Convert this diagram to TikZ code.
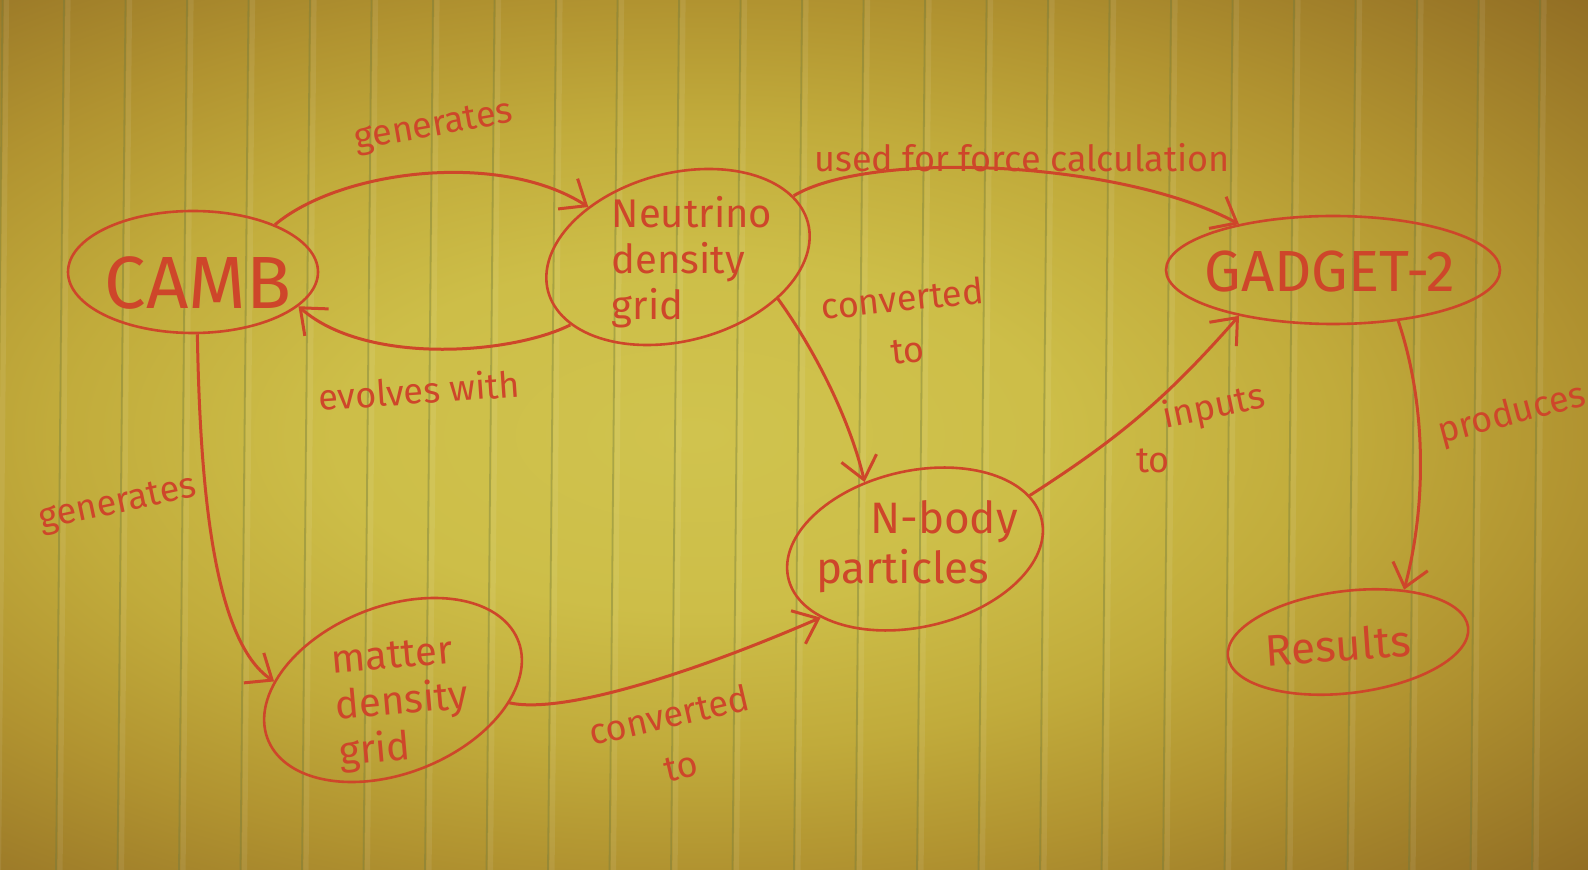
\documentclass[tikz,border=0pt]{standalone}
\usepackage{fontspec}
\setmainfont{Fira Sans}
\usetikzlibrary{shapes.geometric,arrows.meta}

\definecolor{ink}{RGB}{206,70,42}
\definecolor{paperA}{RGB}{208,195,78}
\definecolor{paperB}{RGB}{205,190,72}
\definecolor{paperC}{RGB}{193,171,59}
\definecolor{paperD}{RGB}{177,147,48}
\definecolor{paperE}{RGB}{156,122,40}
\definecolor{paperF}{RGB}{144,108,35}
\definecolor{rule}{RGB}{112,122,62}

% yellow legal pad, darker towards the corners
% (the shaded path's box spans -25bp..25bp of this shading)
\pgfdeclareradialshading{paper}{\pgfpoint{0bp}{0bp}}{%
  color(0bp)=(paperA); color(10bp)=(paperB); color(18bp)=(paperC);
  color(25bp)=(paperD); color(32bp)=(paperE); color(36bp)=(paperF);
  color(50bp)=(paperF)}

\begin{document}
\begin{tikzpicture}[x=0.5pt,y=-0.5pt,
  bubble/.style={ellipse, draw=ink, line width=1.3pt, inner sep=0pt},
  word/.style={text=ink, inner sep=0pt, align=left,
    font=\fontsize{20}{23}\selectfont},
  tag/.style={text=ink, inner sep=0pt, align=center,
    font=\fontsize{18}{26}\selectfont},
  link/.style={draw=ink, line width=1.5pt,
    -{Straight Barb[length=11pt,width=18pt]}},
]
\useasboundingbox (0,0) rectangle (1588,870);
\clip (0,0) rectangle (1588,870);

% paper and its ruling
\shade[shading=paper] (-200,0) rectangle (1588,870);
\foreach \i in {-1,...,25} {
  \pgfmathsetmacro\xt{64+61.5*\i}
  \draw[white, opacity=0.08, line width=2.6pt] (\xt+4,0) -- (\xt-4,870);
  \draw[rule, opacity=0.4, line width=0.9pt] (\xt,0) -- (\xt-8,870);
}

% nodes of the pipeline
\node[bubble, minimum width=125pt, minimum height=61pt] (camb) at (193,272) {};
\node[word, font=\fontsize{37}{40}\selectfont] (cambT) at (198,283) {CAMB};

\node[bubble, xslant=0.35, minimum width=128pt, minimum height=88pt] (nu) at (678,257) {};
\node[word] (nuT) at (692,262) {Neutrino\\density\\grid};

\node[bubble, minimum width=167pt, minimum height=54pt] (gadget) at (1333,270) {};
\node[word, font=\fontsize{29}{31}\selectfont] (gadgetT) at (1330,272) {GADGET-2};

\node[bubble, rotate=13, minimum width=130pt, minimum height=78pt] (nbody) at (915,549) {};
\node[word, font=\fontsize{22}{25}\selectfont] (nbodyT) at (917,547) {\hspace*{27pt}N-body\\particles};

\node[bubble, xslant=0.45, minimum width=122pt, minimum height=92pt] (matter) at (393,690) {};
\node[word, rotate=5] (matterT) at (402,705) {matter\\density\\grid};

\node[bubble, rotate=7, minimum width=121pt, minimum height=51pt] (results) at (1348,642) {};
\node[word, font=\fontsize{22}{24}\selectfont, rotate=4] (resultsT) at (1338,645) {Results};

% edge labels
\node[tag, rotate=10] (lgen1) at (434,128) {generates};
\node[tag, rotate=4] (levolve) at (419,390) {evolves with};
\node[tag] (lforce) at (1022,158) {used for force calculation};
\node[tag, rotate=6] (lconv1) at (905,324) {converted\\to};
\node[tag, rotate=12] (lgen2) at (118,505) {generates};
\node[tag, rotate=13] (lconv2) at (675,740) {converted\\to};
\node[tag, rotate=12] (linputs) at (1214,408) {inputs};
\node[tag] (linputsto) at (1153,461) {to};
\node[tag, rotate=15] (lproduce) at (1512,415) {produces};

% connectors
\draw[link] (camb.30) .. controls (340,170) and (500,150) .. (nu.155);
\draw[link] (nu.219) .. controls (510,355) and (365,365) .. (camb.-18);
\draw[link] (nu.33) .. controls (870,150) and (1120,160) .. (gadget.154);
\draw[link] (nu.-20) .. controls (815,350) and (850,420) .. (nbody.114);
\draw[link] (camb.-86) .. controls (200,480) and (212,640) .. (matter.176);
\draw[link] (matter.-6) .. controls (565,715) and (700,670) .. (nbody.203);
\draw[link] (nbody.12) to[bend right=8] (gadget.206);
\draw[link] (gadget.-38) .. controls (1425,400) and (1428,500) .. (results.36);
\end{tikzpicture}
\end{document}
